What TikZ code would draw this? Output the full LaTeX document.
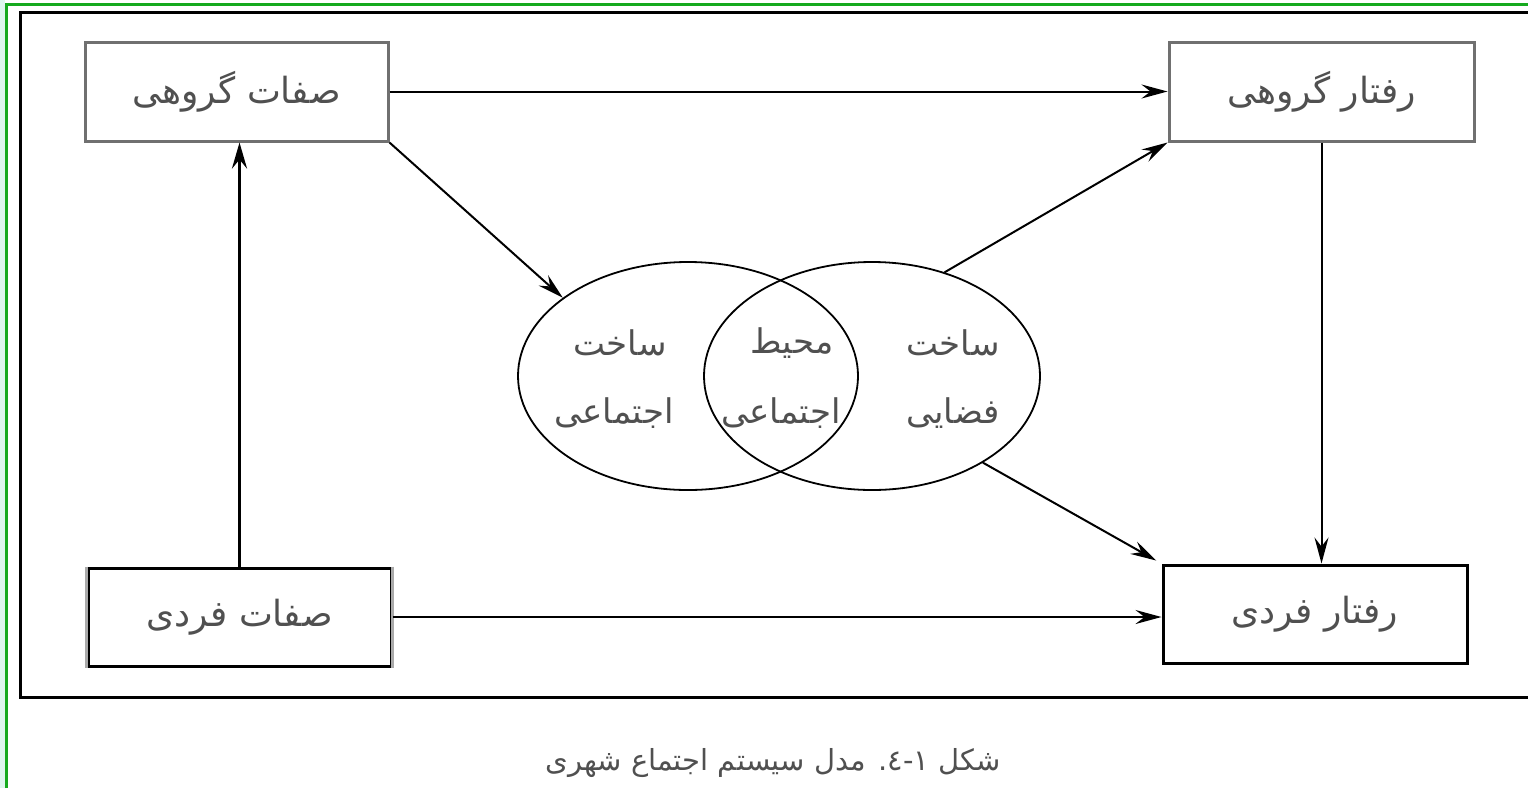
\documentclass[tikz,border=0pt]{standalone}
\usepackage{fontspec}
\TeXXeTstate=1
\newfontfamily\arabicfont[Script=Arabic]{DejaVu Sans}
\usetikzlibrary{arrows.meta,shapes.geometric}
\definecolor{frgreen}{RGB}{22,170,30}
\definecolor{frcyan}{RGB}{222,246,238}
\definecolor{boxgray}{RGB}{112,112,112}
\definecolor{sidegray}{RGB}{170,170,170}
\definecolor{txtgray}{RGB}{80,80,80}
\newcommand{\fa}[1]{\beginR #1\endR}
\tikzset{
  box/.style={draw, rectangle, minimum height=99pt, inner sep=0pt,
    font=\fontsize{36}{40}\arabicfont, text=txtgray},
  graybox/.style={box, draw=boxgray, line width=3pt},
  blackbox/.style={box, draw=black, line width=3pt},
  venn/.style={draw, ellipse, minimum height=228pt, inner sep=0pt, line width=1.8pt},
  lbl/.style={font=\fontsize{34}{38}\arabicfont, text=txtgray, inner sep=0pt},
  arr/.style={-{Stealth[length=26pt,width=14pt,inset=9pt]}, line width=2pt},
  thickarr/.style={-{Stealth[length=26pt,width=15pt,inset=9pt]}, line width=3.5pt},
}
\begin{document}
\begin{tikzpicture}[x=1pt,y=-1pt]
\useasboundingbox (0,0) rectangle (1528,788);
% outer frames
\fill[frcyan] (0,0) rectangle (5,788);
\draw[frgreen, line width=3pt] (6,788) -- (6,4) -- (1528,4);
\draw[black, line width=3pt] (1528,12) -- (20,12) -- (20,697) -- (1528,697);
% boxes
\node[graybox, minimum width=303pt] (tl) at (236.5,91.5) {\fa{صفات گروهی}};
\node[graybox, minimum width=305pt] (tr) at (1321.5,91.5) {\fa{رفتار گروهی}};
\node[blackbox, minimum width=303pt, minimum height=98pt] (bl) at (239.5,617) {\fa{صفات فردی}};
\draw[sidegray, line width=3.5pt] (bl.north west) -- (bl.south west);
\draw[sidegray, line width=3.5pt] (bl.north east) -- (bl.south east);
\node[blackbox, minimum width=304pt, minimum height=98pt] (br) at (1315,614) {\fa{رفتار فردی}};
% ellipses
\node[venn, minimum width=340pt] (le) at (688,376) {};
\node[venn, minimum width=336pt] (re) at (872,376) {};
% ellipse labels
\node[lbl] (l1) at (620,343) {\fa{ساخت}};
\node[lbl] (l2) at (614,413) {\fa{اجتماعی}};
\node[lbl] (m1) at (792,343) {\fa{محیط}};
\node[lbl] (m2) at (781,413) {\fa{اجتماعی}};
\node[lbl] (r1) at (953,343) {\fa{ساخت}};
\node[lbl] (r2) at (953,413) {\fa{فضایی}};
% connectors
\draw[arr] (tl.east) -- (tl.east -| tr.west);
\draw[arr] (tl.south east) -- (le.148);
\draw[arr] (re.55) -- (tr.south west);
\draw[arr] (tr.south) -- (tr.south |- br.north);
\draw[arr, shorten >=6pt] (re.-38) -- (br.north west);
\draw[arr] (bl.east) -- (bl.east -| br.west);
\draw[thickarr] (bl.north) -- (bl.north |- tl.south);
% caption
\node[lbl, font=\fontsize{29}{33}\arabicfont] (cap) at (773,763) {\fa{شکل ١-٤. مدل سیستم اجتماع شهری}};
\end{tikzpicture}
\end{document}
